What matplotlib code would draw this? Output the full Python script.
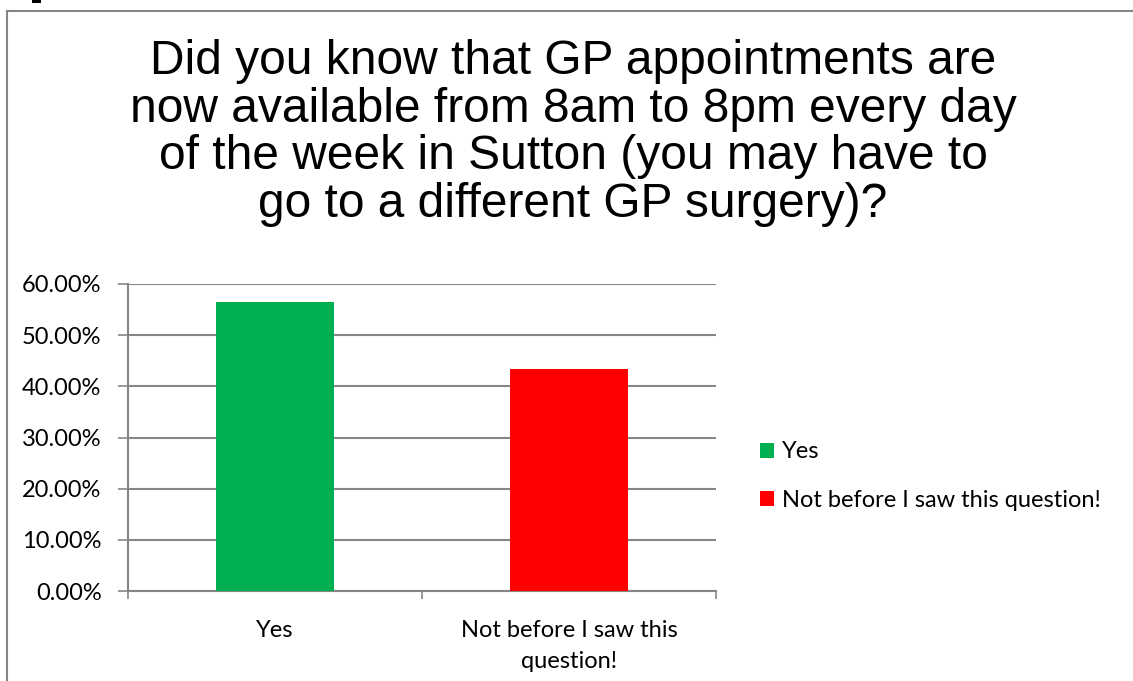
import matplotlib
matplotlib.use("Agg")
import matplotlib.pyplot as plt
from matplotlib.patches import Rectangle, Patch
from matplotlib.ticker import FixedLocator, NullFormatter

title = "Did you know that GP appointments are\nnow available from 8am to 8pm every day\nof the week in Sutton (you may have to\ngo to a different GP surgery)?"
categories = ["Yes", "Not before I saw this\nquestion!"]
legend_labels = ["Yes", "Not before I saw this question!"]
values = [0.5652, 0.4348]
colors = ["#00B050", "#FF0000"]
yticks = [0.0, 0.1, 0.2, 0.3, 0.4, 0.5, 0.6]

W, H = 1133, 681
fig = plt.figure(figsize=(W / 100, H / 100), dpi=100)
fig.patch.set_facecolor("white")

# outer border
fig.add_artist(Rectangle((6.5 / W, -0.01), 1.02, 1 - 10.5 / H + 0.01, transform=fig.transFigure,
                         fill=False, edgecolor="#868686", linewidth=1.5))
fig.add_artist(Rectangle((32 / W, 1 - 3 / H), 9 / W, 3 / H, transform=fig.transFigure,
                         facecolor="black", edgecolor="none"))

fig.text(573 / W, 1 - 133 / H, title, ha="center", va="center",
         fontsize=34.5, family="Liberation Sans", linespacing=1.08, color="black")

small = 17
left, right, top, bottom = 128, 716, 284, 591
ax = fig.add_axes([left / W, 1 - bottom / H, (right - left) / W, (bottom - top) / H])
x = list(range(len(categories)))
ax.bar(x, values, width=0.4, color=colors, zorder=3)
ax.set_xlim(-0.5, len(categories) - 0.5)
ax.set_ylim(0, 0.6)
ax.set_yticks(yticks)
ax.set_yticklabels([f"{v*100:.2f}%" for v in yticks], family="Lato", fontsize=small)
ax.yaxis.grid(True, color="#868686", linewidth=1.5, zorder=0)
ax.set_axisbelow(True)

ax.xaxis.set_major_locator(FixedLocator([-0.5, 0.5, 1.5]))
ax.xaxis.set_major_formatter(NullFormatter())
ax.xaxis.set_minor_locator(FixedLocator(x))
ax.set_xticklabels(categories, minor=True, family="Lato", fontsize=small, linespacing=1.6)
ax.tick_params(axis="x", which="minor", length=0, pad=21)
ax.tick_params(axis="x", which="major", length=6, color="#868686", width=1.2, direction="out")
ax.tick_params(axis="y", length=7, color="#868686", width=1.2, pad=12)

for s in ["top", "right"]:
    ax.spines[s].set_visible(False)
for s in ["left", "bottom"]:
    ax.spines[s].set_color("#868686")
    ax.spines[s].set_linewidth(1.5)

handles = [Patch(facecolor=c, edgecolor="none") for c in colors]
fig.legend(handles, legend_labels, loc="center left", bbox_to_anchor=(748 / W, 1 - 476 / H),
           frameon=False, prop={"family": "Lato", "size": small}, handlelength=0.6, handleheight=0.6,
           handletextpad=0.35, labelspacing=1.15, borderpad=0)

fig.savefig("out.png", dpi=100, facecolor="white")
